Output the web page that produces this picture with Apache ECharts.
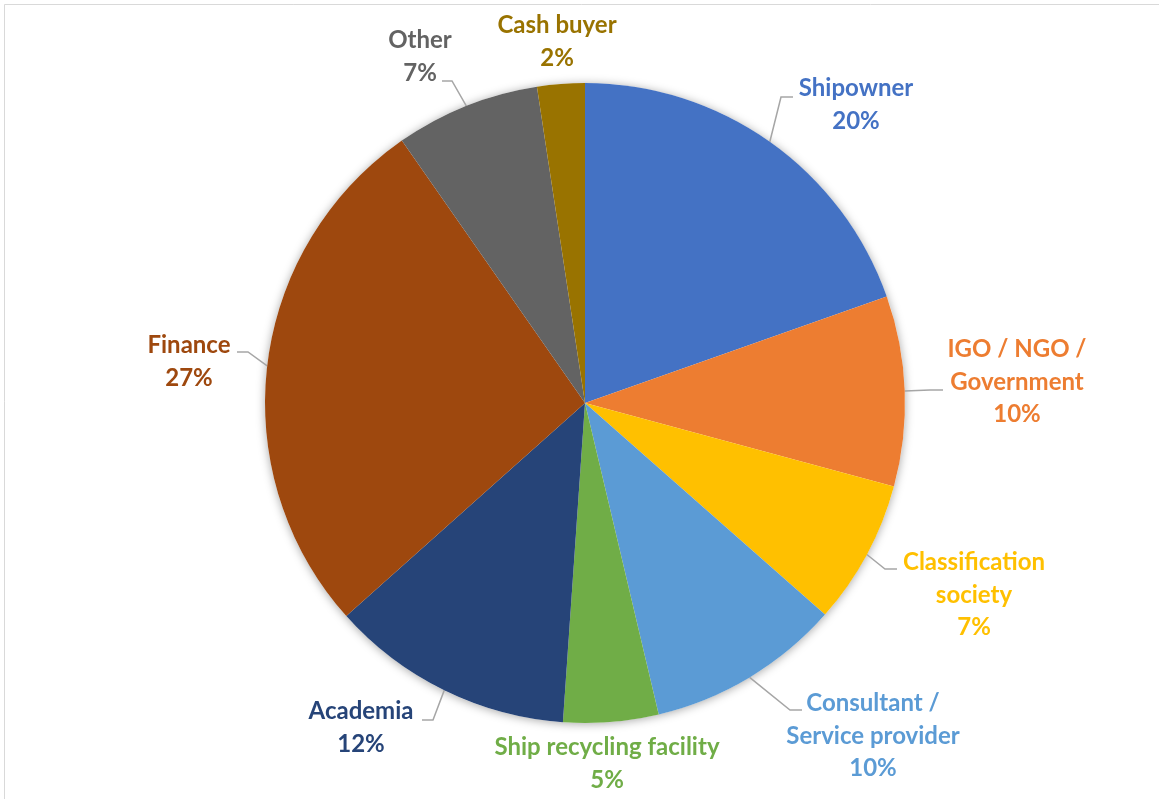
<!DOCTYPE html>
<html><head><meta charset="utf-8">
<script src="https://cdn.jsdelivr.net/npm/echarts@6/dist/echarts.min.js"></script>
<style>html,body{margin:0;padding:0;background:#fff}#c{width:1159px;height:799px}</style>
</head><body><div id="c"></div>
<script>
const categories = ['Shipowner','IGO / NGO / Government','Classification society','Consultant / Service provider','Ship recycling facility','Academia','Finance','Other','Cash buyer'];
const labelNames = ['Shipowner','IGO / NGO /\nGovernment','Classification\nsociety','Consultant /\nService provider','Ship recycling facility','Academia','Finance','Other','Cash buyer'];
const shares = [19.6, 9.6, 7.3, 9.8, 4.8, 12.3, 26.9, 7.3, 2.4];
const colors = ['#4472C4','#ED7D31','#FFC000','#5B9BD5','#70AD47','#264478','#9E480E','#636363','#997300'];

// label layout (text block centre, leader elbow and end)
const labelCentre = [[856,105],[1017,382],[974,595],[873,736],[607,764],[361,728],[189,362],[420,57],[557,42]];
const leaderElbow = [[781,97],[930,390],[885,569],[790,710],[null,null],[433,720],[248,352],[452,81],[null,null]];
const leaderEnd   = [[793,97],[943,390],[897,569],[802,710],[null,null],[422,720],[237,352],[442,81],[null,null]];

const chart = echarts.init(document.getElementById('c'));
const data = categories.map((n,i)=>({
  name:n, value:shares[i],
  itemStyle:{color:colors[i]},
  label:{color:colors[i]},
  labelLine:{show: leaderEnd[i][0]!==null}
}));
chart.setOption({
  backgroundColor:'#ffffff',
  animation:false,
  graphic:[
    {type:'line',shape:{x1:4.5,y1:4.5,x2:1159,y2:4.5},style:{stroke:'#d9d9d9',lineWidth:1}},
    {type:'line',shape:{x1:4.5,y1:4.5,x2:4.5,y2:799},style:{stroke:'#d9d9d9',lineWidth:1}}
  ],
  series:[
    {
      type:'pie', silent:true, z:1,
      center:[585,403], radius:320,
      data:[{value:1,name:'bg'}],
      label:{show:false}, labelLine:{show:false},
      itemStyle:{color:'#ffffff',shadowBlur:10,shadowColor:'rgba(0,0,0,0.35)',shadowOffsetX:0,shadowOffsetY:1}
    },
    {
      type:'pie', z:2,
      center:[585,403], radius:320,
      startAngle:90, clockwise:true,
      avoidLabelOverlap:false,
      data:data,
      itemStyle:{borderWidth:0},
      label:{
        show:true, position:'outside',
        fontFamily:'Lato', fontWeight:'bold', fontSize:24, lineHeight:32.5,
        formatter:p=>labelNames[p.dataIndex]+'\n'+Math.round(p.percent)+'%'
      },
      labelLine:{show:true,length:15,length2:10,smooth:false,lineStyle:{color:'#a6a6a6',width:1.5}},
      labelLayout:function(params){
        const i=params.dataIndex;
        const out={x:labelCentre[i][0],y:labelCentre[i][1],align:'center',verticalAlign:'middle'};
        if(leaderEnd[i][0]!==null && params.labelLinePoints){
          const p0=params.labelLinePoints[0];
          out.labelLinePoints=[[p0[0],p0[1]],leaderElbow[i],leaderEnd[i]];
        }
        return out;
      }
    }
  ]
});
</script></body></html>
